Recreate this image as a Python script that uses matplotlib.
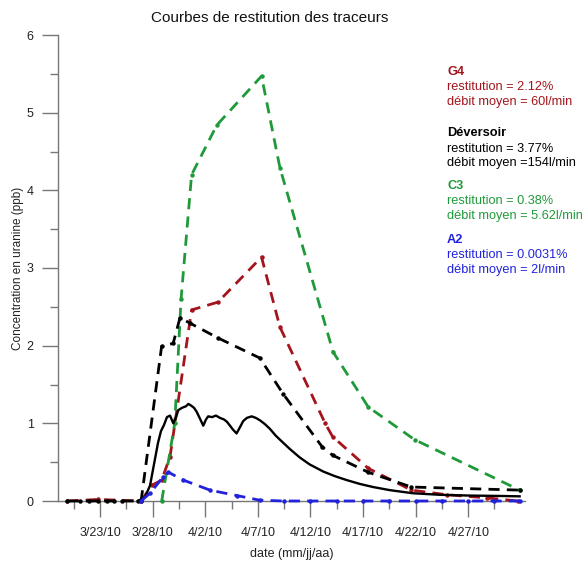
import numpy as np
import matplotlib
matplotlib.use("Agg")
import matplotlib.pyplot as plt
import matplotlib.dates as mdates
from matplotlib.ticker import FixedLocator, FuncFormatter
import datetime as dt

plt.rcParams['font.family'] = ['Liberation Sans', 'DejaVu Sans']

# ---- data: days since 2010-03-23, concentrations in ppb ----
BASE_DATE = dt.datetime(2010, 3, 23)

deversoir_pts_days = [-3.1, -1.9, -1.1, -0.2, 0.7, 1.3, 2.1, 3.6, 3.9, 5.85, 6.95, 7.6, 8.55,
                      11.2, 15.2, 17.4, 21.1, 22.1, 25.5, 29.6, 39.9]
deversoir_pts_vals = [0, 0, 0, 0, 0, 0, 0, 0, 0, 1.99, 2.03, 2.36, 2.29,
                      2.10, 1.84, 1.38, 0.70, 0.59, 0.37, 0.18, 0.14]

deversoir_cont_days = [3.61, 4.27, 4.75, 5.51, 5.79, 6.08, 6.36, 6.65, 6.96, 7.22, 7.44, 7.79,
                       8.17, 8.39, 8.64, 8.93, 9.18, 9.50, 9.81, 10.07, 10.28, 10.64, 11.02,
                       11.40, 11.78, 12.06, 12.35, 12.63, 12.98, 13.30, 13.61, 13.96, 14.41,
                       14.81, 15.19, 15.67, 16.14, 16.71, 17.41, 18.04, 18.99, 19.94, 21.21,
                       22.32, 23.43, 24.69, 25.95, 27.54, 29.72, 32.29, 35.14, 37.99, 39.89]
deversoir_cont_vals = [0.0, 0.05, 0.20, 0.75, 0.90, 0.98, 1.08, 1.10, 1.00, 1.08, 1.17, 1.20,
                       1.22, 1.25, 1.23, 1.20, 1.15, 1.06, 0.97, 1.05, 1.09, 1.08, 1.10,
                       1.07, 1.05, 1.02, 0.97, 0.92, 0.87, 0.95, 1.03, 1.07, 1.09,
                       1.07, 1.04, 0.99, 0.93, 0.84, 0.75, 0.67, 0.56, 0.47, 0.38,
                       0.32, 0.27, 0.22, 0.18, 0.14, 0.10, 0.08, 0.07, 0.065, 0.06]

g4_days = [-3.1, -0.2, 3.9, 4.9, 5.86, 6.65, 8.7, 11.2, 15.35, 17.1, 21.4, 22.1, 25.5, 29.6,
           33.0, 36.8, 39.7]
g4_vals = [0, 0.02, 0, 0.20, 0.27, 0.57, 2.46, 2.56, 3.14, 2.24, 1.00, 0.83, 0.42, 0.14,
           0.08, 0.04, 0.0]

c3_days = [5.86, 7.1, 7.7, 8.7, 11.1, 15.35, 17.1, 22.15, 25.5, 29.9, 39.9]
c3_vals = [0, 1.0, 2.6, 4.2, 4.84, 5.47, 4.29, 1.92, 1.21, 0.79, 0.14]

a2_days = [3.9, 4.75, 6.0, 6.5, 7.9, 10.45, 13.0, 15.2, 17.5, 20.0, 22.5, 25.0, 27.5,
           30.0, 32.5, 35.0, 37.5, 39.9]
a2_vals = [0, 0.10, 0.31, 0.37, 0.27, 0.14, 0.07, 0.01, 0, 0, 0, 0, 0,
           0, 0, 0, 0, 0]

legend_entries = [
    ("G4", "restitution = 2.12%", "débit moyen = 60l/min", "#a3141c"),
    ("Déversoir", "restitution = 3.77%", "débit moyen =154l/min", "#000000"),
    ("C3", "restitution = 0.38%", "débit moyen = 5.62l/min", "#1f9a3a"),
    ("A2", "restitution = 0.0031%", "débit moyen = 2l/min", "#2222dd"),
]

major_tick_days = [0, 5, 10, 15, 20, 25, 30, 35]
minor_tick_days = [-2.5, 2.5, 7.5, 12.5, 17.5, 22.5, 27.5, 32.5, 37.5]
y_major = [0, 1, 2, 3, 4, 5, 6]
y_minor = [0.5, 1.5, 2.5, 3.5, 4.5, 5.5]

base = mdates.date2num(BASE_DATE)
def X(days):
    return base + np.asarray(days, dtype=float)

W, H = 588, 563
fig = plt.figure(figsize=(W / 100, H / 100), dpi=100)
ax = fig.add_axes([58 / W, 1 - 501 / H, (525 - 58) / W, (501 - 35) / H])

dash = (4, 2.6)
ax.plot(X(g4_days), g4_vals, color="#a3141c", lw=2.0, ls=(0, dash), marker='o', ms=2.2,
        zorder=3, clip_on=False)
ax.plot(X(c3_days), c3_vals, color="#1f9a3a", lw=2.0, ls=(0, dash), marker='o', ms=2.2,
        zorder=4, clip_on=False)
ax.plot(X(deversoir_pts_days), deversoir_pts_vals, color="black", lw=2.0, ls=(0, dash),
        marker='o', ms=2.2, zorder=5, clip_on=False)
ax.plot(X(deversoir_cont_days), deversoir_cont_vals, color="black", lw=1.7, zorder=6,
        clip_on=False)
ax.plot(X(a2_days), a2_vals, color="#2222dd", lw=2.0, ls=(0, dash), marker='o', ms=2.2,
        zorder=7, clip_on=False)

ax.set_ylim(0, 6)
ax.set_xlim(base - 4.0, base + 40.4)

for s in ['top', 'right']:
    ax.spines[s].set_visible(False)
for s in ['left', 'bottom']:
    ax.spines[s].set_color('#777777')
    ax.spines[s].set_linewidth(1.0)

ax.xaxis.set_major_locator(FixedLocator(X(major_tick_days)))
ax.xaxis.set_minor_locator(FixedLocator(X(minor_tick_days)))
def fmt(v, pos):
    d = mdates.num2date(v)
    return f"{d.month}/{d.day}/{d.strftime('%y')}"
ax.xaxis.set_major_formatter(FuncFormatter(fmt))
ax.yaxis.set_major_locator(FixedLocator(y_major))
ax.yaxis.set_minor_locator(FixedLocator(y_minor))

ax.tick_params(axis='both', which='major', length=11.5, width=1.0, color='#777777',
               labelsize=9, labelcolor='#222222')
ax.tick_params(axis='both', which='minor', length=6.0, width=1.0, color='#777777')
ax.tick_params(axis='x', which='major', pad=7)
ax.tick_params(axis='y', which='major', pad=6)

ax.set_xlabel("date (mm/jj/aa)", fontsize=9, color='#222222', labelpad=7)
ax.set_ylabel("Concentration en uranine (ppb)", fontsize=8.5, color='#222222')
ax.yaxis.set_label_coords((24 - 58) / (525 - 58), 0.5)

fig.text(270 / W, 1 - 18 / H, "Courbes de restitution des traceurs", ha='center',
         va='center', fontsize=11, color='#111111')

tops = [72, 133, 186, 240]
for (name, l1, l2, col), ty in zip(legend_entries, tops):
    fig.text(447 / W, 1 - ty / H, name, color=col, fontsize=9.2, fontweight='bold',
             ha='left', va='center')
    fig.text(447 / W, 1 - (ty + 15.5) / H, l1, color=col, fontsize=9.2, ha='left', va='center')
    fig.text(447 / W, 1 - (ty + 30) / H, l2, color=col, fontsize=9.2, ha='left', va='center')

fig.savefig("out.png", dpi=100)
